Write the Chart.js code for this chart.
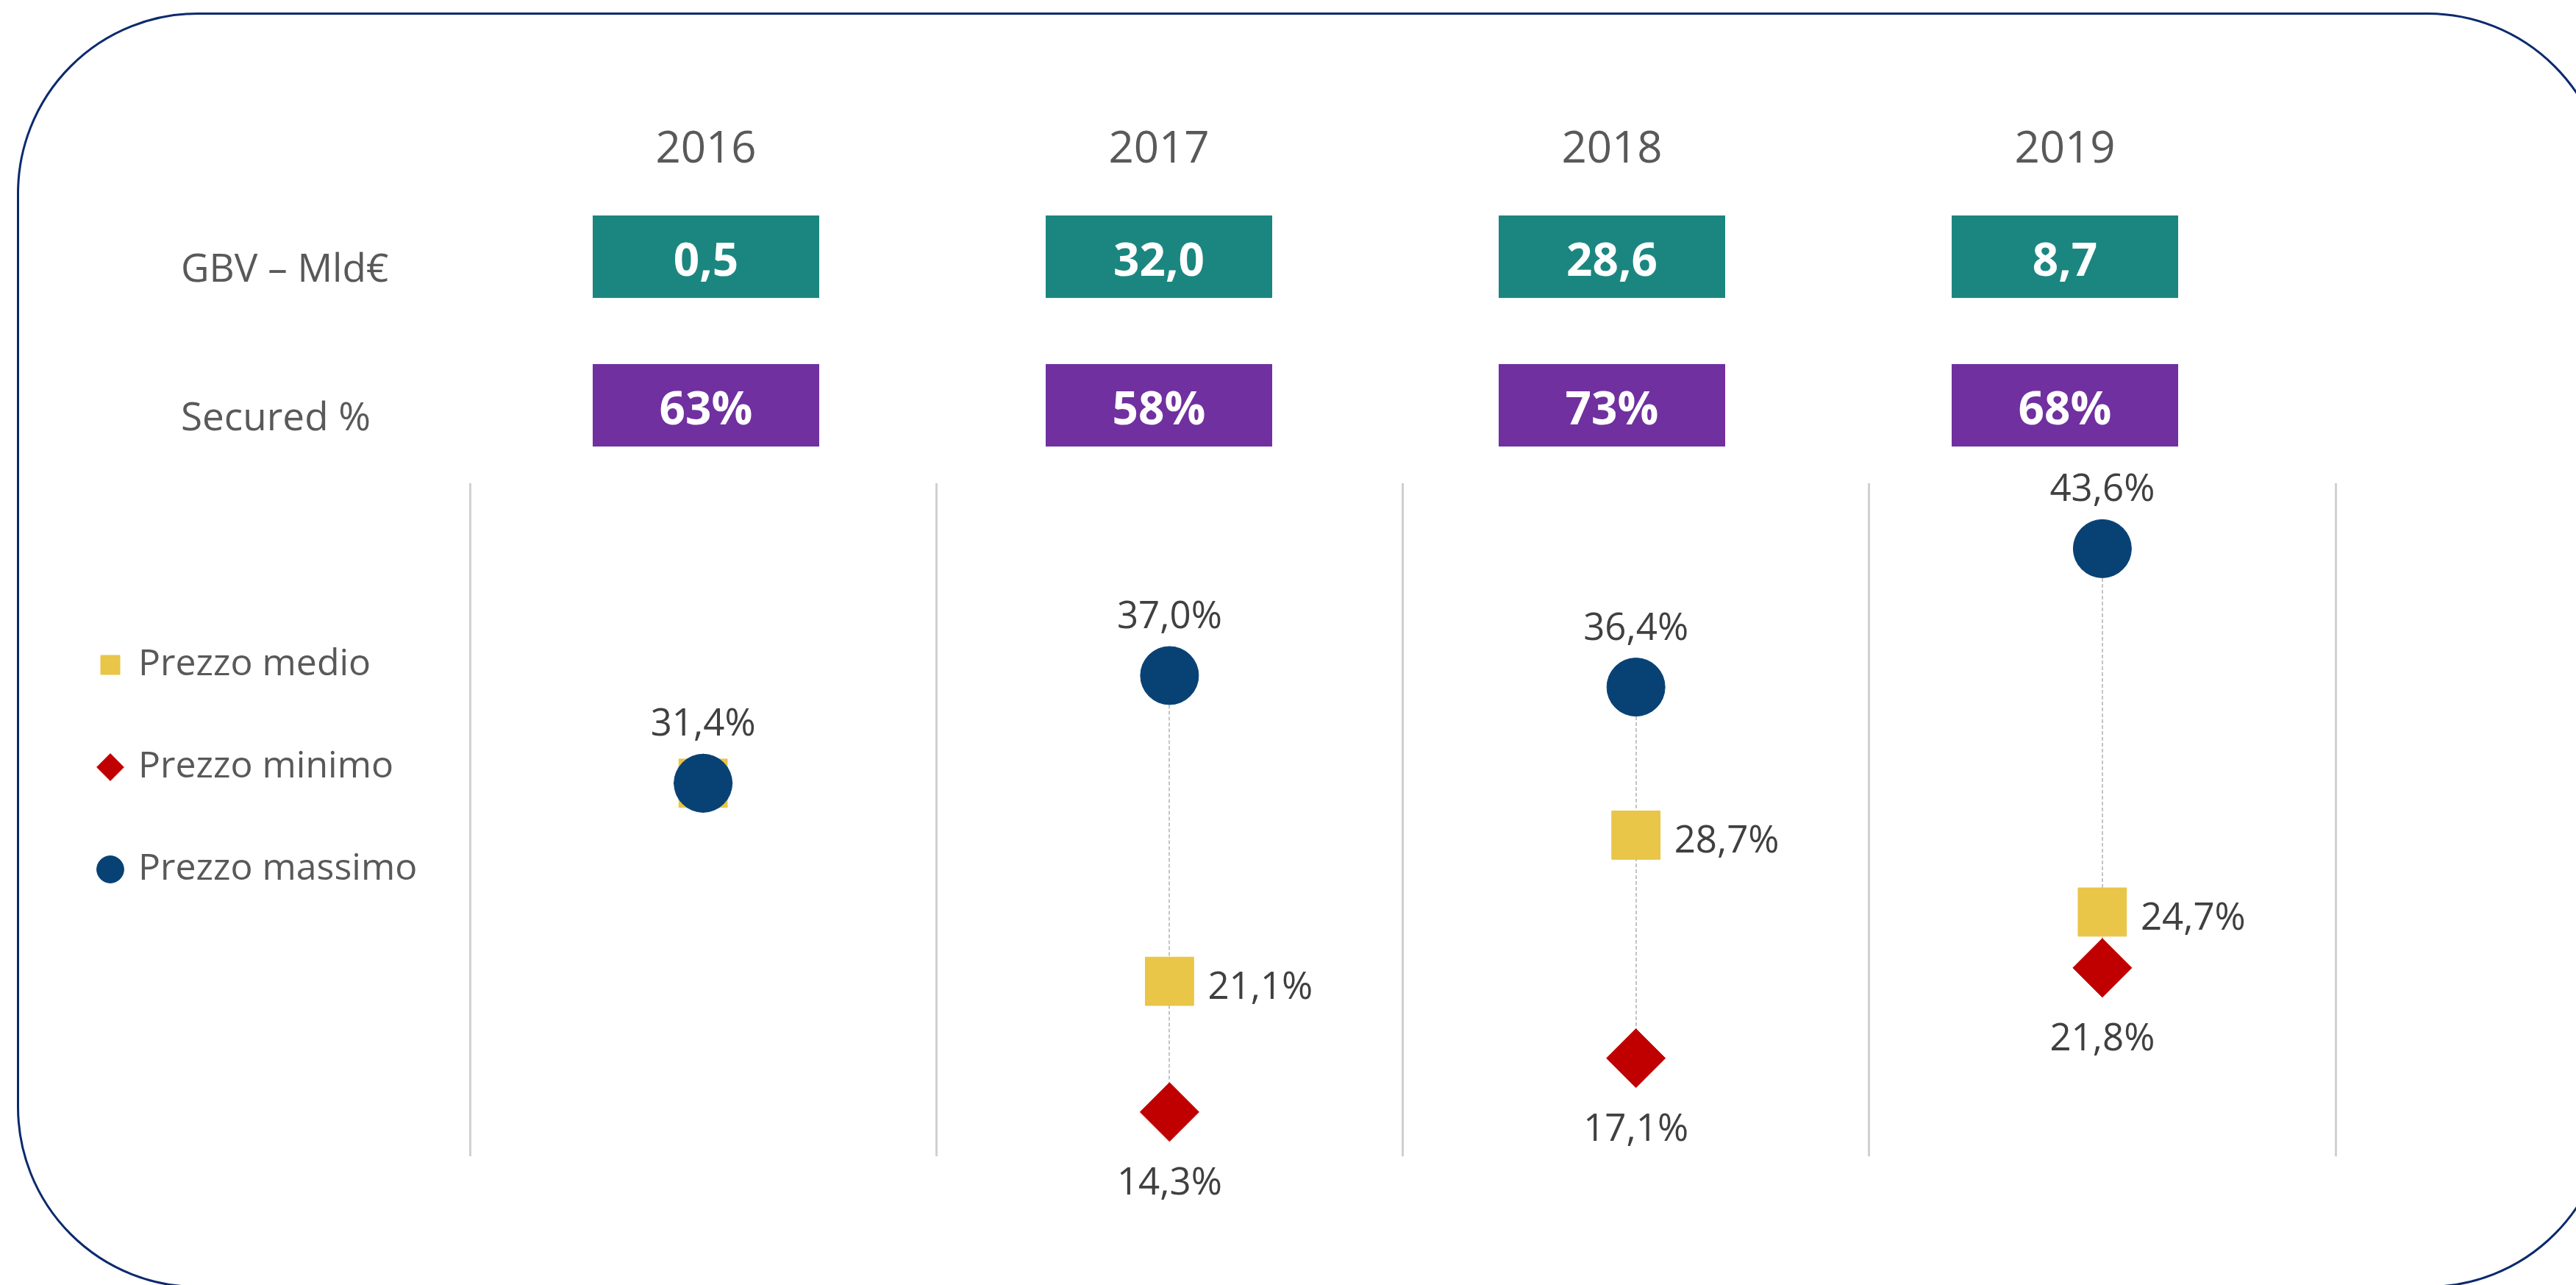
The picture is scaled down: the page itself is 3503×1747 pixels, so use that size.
<!DOCTYPE html>
<html>
<head>
<meta charset="utf-8">
<script src="https://cdn.jsdelivr.net/npm/chart.js"></script>
<style>
  html, body { margin: 0; padding: 0; background: #fff; overflow: hidden; }
  #page { position: relative; width: 3503px; height: 1747px; overflow: hidden; background: #fff; }
  #frame {
    position: absolute; left: 23px; top: 17px; width: 3524px; height: 1734px;
    box-sizing: border-box; border: 3px solid #0b2a6e; border-radius: 246px;
  }
  canvas { position: absolute; left: 0; top: 0; }
</style>
</head>
<body>
<div id="page">
  <div id="frame"></div>
  <canvas id="header" width="3503" height="700"></canvas>
  <canvas id="prices" width="3503" height="1747"></canvas>
</div>
<script>
// years and the two summary rows
const years = ['2016', '2017', '2018', '2019'];
const rowLabels = ['GBV – Mld€', 'Secured %'];
const gbv = [0.5, 32.0, 28.6, 8.7];
const securedPct = [63, 58, 73, 68];

// price range per year (%)
const prezzoMedio = [31.4, 21.1, 28.7, 24.7];
const prezzoMinimo = [31.4, 14.3, 17.1, 21.8];
const prezzoMassimo = [31.4, 37.0, 36.4, 43.6];

Chart.defaults.font.family = "'Open Sans', sans-serif";
Chart.defaults.color = '#595959';

const comma = (v, d) => v.toFixed(d).replace('.', ',');

// coloured value boxes of the summary table
const headerCells = {
  id: 'headerCells',
  afterDraw(chart) {
    const { ctx, scales: { x, y } } = chart;
    const colW = x.width / years.length;
    const rowH = y.height / rowLabels.length;
    const rows = [
      { values: gbv, color: '#1b8680', text: v => comma(v, 1) },
      { values: securedPct, color: '#7030a0', text: v => v + '%' }
    ];
    ctx.save();
    ctx.font = "bold 62px 'Open Sans'";
    ctx.textAlign = 'center';
    ctx.textBaseline = 'middle';
    rows.forEach((row, r) => {
      const cy = y.getPixelForValue(r);
      row.values.forEach((v, i) => {
        const cx = x.getPixelForValue(i);
        const w = colW * 0.5, h = rowH * 0.555;
        ctx.fillStyle = row.color;
        ctx.fillRect(cx - w / 2, cy - h / 2, w, h);
        ctx.fillStyle = '#ffffff';
        ctx.fillText(row.text(v), cx, cy + 8);
      });
    });
    ctx.restore();
  }
};

new Chart(document.getElementById('header'), {
  type: 'bar',
  data: { labels: years, datasets: [] },
  options: {
    responsive: false,
    devicePixelRatio: 1,
    animation: false,
    events: [],
    layout: { padding: { left: 246, right: 387, top: 163, bottom: 48 } },
    plugins: { legend: { display: false }, tooltip: { enabled: false } },
    scales: {
      x: {
        type: 'category',
        position: 'top',
        offset: true,
        grid: { display: false, drawTicks: false },
        border: { display: false },
        ticks: { font: { size: 60 }, color: '#595959', padding: 8 },
        afterFit: s => { s.height = 85; }
      },
      y: {
        type: 'category',
        labels: rowLabels,
        position: 'left',
        offset: true,
        grid: { display: false, drawTicks: false },
        border: { display: false },
        ticks: { font: { size: 53 }, color: '#595959', crossAlign: 'far', labelOffset: 19 },
        afterFit: s => { s.width = 406; }
      }
    }
  },
  plugins: [headerCells]
});

// dashed line from max to min in each year
const hiLoLines = {
  id: 'hiLoLines',
  beforeDatasetsDraw(chart) {
    const { ctx, scales: { x, y } } = chart;
    ctx.save();
    ctx.strokeStyle = '#c4c4c4';
    ctx.lineWidth = 2;
    ctx.setLineDash([5, 3]);
    years.forEach((_, i) => {
      const px = Math.round(x.getPixelForValue(i));
      ctx.beginPath();
      ctx.moveTo(px, y.getPixelForValue(prezzoMassimo[i]));
      ctx.lineTo(px, y.getPixelForValue(prezzoMinimo[i]));
      ctx.stroke();
    });
    ctx.restore();
  }
};

// percentage labels: max above, average right, min below
const labelSide = { 'Prezzo medio': 'right', 'Prezzo minimo': 'below', 'Prezzo massimo': 'above' };
const valueLabels = {
  id: 'valueLabels',
  afterDatasetsDraw(chart) {
    const { ctx } = chart;
    ctx.save();
    ctx.font = "51px 'Open Sans'";
    ctx.fillStyle = '#404040';
    ctx.textBaseline = 'middle';
    chart.data.datasets.forEach((ds, di) => {
      const side = labelSide[ds.label];
      chart.getDatasetMeta(di).data.forEach((pt, i) => {
        const v = ds.data[i];
        if (side !== 'above' && v === prezzoMassimo[i]) return;
        if (side === 'above') {
          ctx.textAlign = 'center';
          ctx.fillText(comma(v, 1) + '%', pt.x, pt.y - 79);
        } else if (side === 'below') {
          ctx.textAlign = 'center';
          ctx.fillText(comma(v, 1) + '%', pt.x, pt.y + 98);
        } else {
          ctx.textAlign = 'left';
          ctx.fillText(comma(v, 1) + '%', pt.x + 52, pt.y + 9);
        }
      });
    });
    ctx.restore();
  }
};

new Chart(document.getElementById('prices'), {
  type: 'line',
  data: {
    labels: years,
    datasets: [
      {
        label: 'Prezzo medio', data: prezzoMedio, showLine: false, order: 1,
        pointStyle: 'rect', pointRadius: 46.5,
        backgroundColor: '#e9c548', borderColor: '#e9c548'
      },
      {
        label: 'Prezzo minimo', data: prezzoMinimo, showLine: false, order: 2,
        pointStyle: 'rectRot', pointRadius: 40,
        backgroundColor: '#c00000', borderColor: '#c00000'
      },
      {
        label: 'Prezzo massimo', data: prezzoMassimo, showLine: false, order: 0,
        pointStyle: 'circle', pointRadius: 39.5,
        backgroundColor: '#084174', borderColor: '#084174'
      }
    ]
  },
  options: {
    responsive: false,
    devicePixelRatio: 1,
    animation: false,
    events: [],
    layout: { autoPadding: false, padding: { left: 48, right: 327, top: 657, bottom: 175 } },
    plugins: {
      tooltip: { enabled: false },
      legend: {
        position: 'left',
        align: 'start',
        title: { display: true, text: '', font: { size: 10 }, padding: { top: 121, bottom: 0 } },
        labels: {
          usePointStyle: true,
          boxWidth: 26,
          boxHeight: 26,
          padding: 89,
          color: '#595959',
          font: { size: 50 },
          sort: (a, b) => a.datasetIndex - b.datasetIndex
        }
      }
    },
    scales: {
      x: {
        offset: true,
        grid: { display: true, offset: true, color: '#d0d0d0', lineWidth: 3, drawTicks: false },
        border: { display: false },
        ticks: { display: false }
      },
      y: {
        min: 12,
        max: 47,
        grid: { display: false, drawTicks: false },
        border: { display: false },
        ticks: { display: false },
        afterFit: s => { s.width = Math.max(0, 639 - 48 - s.chart.legend.width); }
      }
    }
  },
  plugins: [hiLoLines, valueLabels]
});
</script>
</body>
</html>
